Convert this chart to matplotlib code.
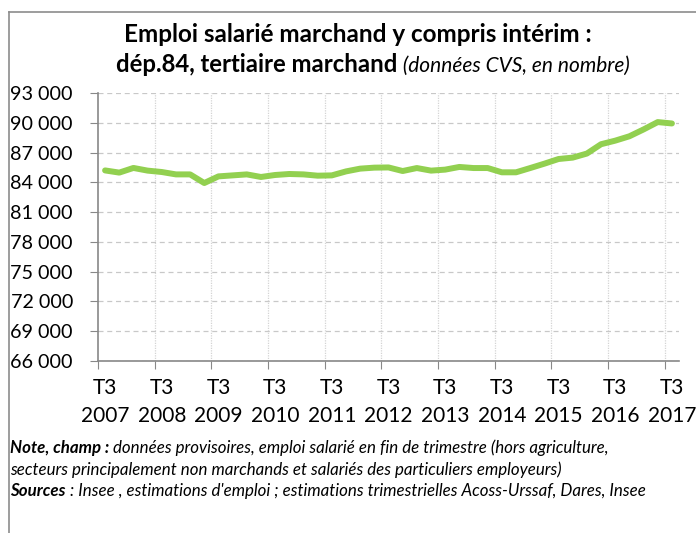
import numpy as np
import matplotlib
matplotlib.use("Agg")
import matplotlib.pyplot as plt
from matplotlib.lines import Line2D
from matplotlib.transforms import ScaledTranslation

plt.rcParams['font.family'] = ['Lato', 'DejaVu Sans']

# emploi salarié trimestriel, T3 2007 -> T3 2017
emploi = [85200, 84980, 85450, 85180, 85040, 84800, 84800, 83930,
          84600, 84700, 84800, 84540, 84740, 84840, 84800, 84670,
          84700, 85100, 85380, 85480, 85500, 85140, 85440, 85180,
          85280, 85550, 85440, 85440, 85010, 85010, 85440, 85880,
          86350, 86490, 86900, 87840, 88200, 88640, 89330, 90070,
          89930]
annees = list(range(2007, 2018))
yticks = list(range(66000, 93001, 3000))

fig = plt.figure(figsize=(6.96, 5.33), dpi=100)
ax = fig.add_axes([98/696, 1-361/533, 581/696, 268/533])

x = np.arange(len(emploi))
ax.plot(x, emploi, color='#92D050', linewidth=4.3, solid_capstyle='round',
        solid_joinstyle='round', zorder=3)

ax.set_xlim(-0.5, len(emploi) - 0.5)
ax.set_ylim(66000, 93000)
ax.set_yticks(yticks)
ax.set_yticklabels([f"{v:,}".replace(",", " ") for v in yticks], fontsize=14.2)
ax.yaxis.grid(True, color='#c8c8c8', linestyle=(0, (4, 3)), linewidth=0.9)
for lab in ax.get_yticklabels():
    lab.set_transform(lab.get_transform() + ScaledTranslation(0, -2/72, fig.dpi_scale_trans))

# ticks entre les catégories, libellés sous le 1er trimestre de chaque groupe
ax.set_xticks(np.arange(-0.5, len(emploi), 4))
ax.set_xticklabels([])
ax.set_xticks(np.arange(0, len(emploi), 4), minor=True)
ax.set_xticklabels([f"T3\n{a}" for a in annees], minor=True, fontsize=15,
                   linespacing=1.5)
ax.tick_params(axis='x', which='minor', length=0, pad=12)
ax.tick_params(axis='x', which='major', length=6, color='#888888')
ax.tick_params(axis='y', length=6, color='#888888', pad=12)
for xv in np.arange(3.5, len(emploi) - 1, 4):
    ax.axvline(xv, color='#d4d4d4', linestyle=(0, (1, 1)), linewidth=0.9, zorder=1)

for s in ['top', 'right']:
    ax.spines[s].set_visible(False)
for s in ['left', 'bottom']:
    ax.spines[s].set_color('#888888')
    ax.spines[s].set_linewidth(1.2)

# cadre extérieur
fig.add_artist(Line2D([9/696, 9/696], [0, 1-12/533], color='#8c8c8c', lw=1.2))
fig.add_artist(Line2D([9/696, 1], [1-12/533, 1-12/533], color='#8c8c8c', lw=1.2))

# titre
r = fig.canvas.get_renderer()
fig.text(358/696, 1-42/533, "Emploi salarié marchand y compris intérim :",
         fontsize=17.5, fontweight='bold', ha='center', va='baseline')
t1 = fig.text(0, 1-72/533, "dép.84, tertiaire marchand", fontsize=17.2,
              fontweight='bold', va='baseline')
t2 = fig.text(0, 1-72/533, " (données CVS, en nombre)", fontsize=15,
              style='italic', va='baseline')
w1 = t1.get_window_extent(r).width
w2 = t2.get_window_extent(r).width
x0 = 373 - (w1 + w2) / 2
t1.set_x(x0 / 696)
t2.set_x((x0 + w1) / 696)

# notes
def ligne(y, morceaux):
    xp = 10
    for txt, poids in morceaux:
        t = fig.text(xp/696, 1-y/533, txt, fontsize=12.2, style='italic',
                     fontweight=poids, va='center')
        xp += t.get_window_extent(r).width

ligne(448, [("Note, champ :", 'bold'),
            (" données provisoires, emploi salarié en fin de trimestre (hors agriculture,", 'normal')])
ligne(470, [("secteurs principalement non marchands et salariés des particuliers employeurs)", 'normal')])
ligne(491, [("Sources", 'bold'),
            (" : Insee , estimations d'emploi ; estimations trimestrielles Acoss-Urssaf, Dares, Insee", 'normal')])

fig.savefig("out.png", dpi=100)
